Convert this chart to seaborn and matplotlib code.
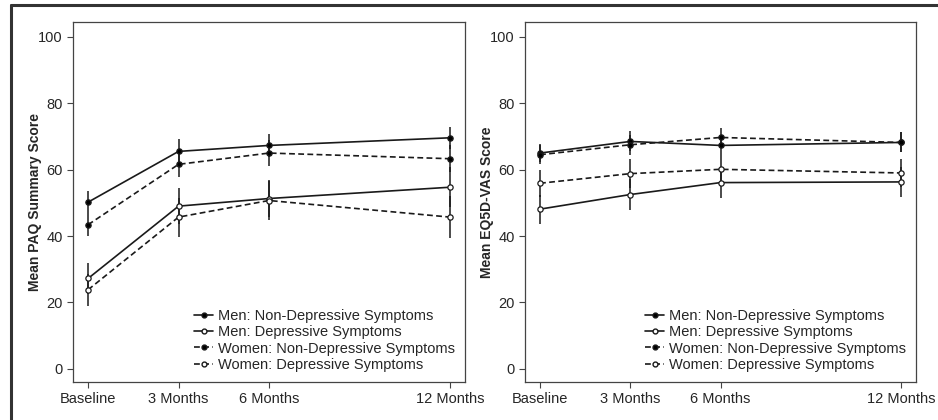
import matplotlib
matplotlib.use("Agg")
import matplotlib.pyplot as plt
import seaborn as sns
import pandas as pd
from matplotlib.lines import Line2D
from matplotlib import font_manager

# time points and tick labels
months = [0, 3, 6, 12]
tick_labels = ["Baseline", "3 Months", "6 Months", "12 Months"]
groups = ["Men: Non-Depressive Symptoms", "Men: Depressive Symptoms",
          "Women: Non-Depressive Symptoms", "Women: Depressive Symptoms"]

# PAQ panel: means and half-widths of the CI bars
paq_men_nd = [50.2, 65.5, 67.3, 69.6]
paq_men_dep = [27.2, 49.0, 51.3, 54.7]
paq_women_nd = [43.4, 61.6, 65.0, 63.3]
paq_women_dep = [23.8, 45.7, 50.7, 45.7]
paq_men_nd_ci = [3.3, 3.7, 3.5, 3.4]
paq_men_dep_ci = [4.6, 5.4, 5.6, 6.0]
paq_women_nd_ci = [3.5, 3.7, 4.0, 4.0]
paq_women_dep_ci = [4.8, 5.9, 6.0, 6.3]

# EQ5D-VAS panel
eq_men_nd = [65.0, 68.5, 67.3, 68.2]
eq_men_dep = [48.1, 52.5, 56.1, 56.3]
eq_women_nd = [64.5, 67.5, 69.7, 68.2]
eq_women_dep = [55.9, 58.8, 60.1, 59.0]
eq_men_nd_ci = [2.8, 3.0, 3.0, 3.0]
eq_men_dep_ci = [4.4, 4.6, 4.5, 4.4]
eq_women_nd_ci = [2.8, 3.0, 3.0, 3.0]
eq_women_dep_ci = [4.0, 4.4, 4.2, 4.3]

# font: narrow sans if available
names = {f.name for f in font_manager.fontManager.ttflist}
font = "Liberation Sans Narrow" if "Liberation Sans Narrow" in names else "Liberation Sans"

sns.set_style("ticks")
plt.rcParams["font.family"] = [font, "DejaVu Sans"]

styles = {
    groups[0]: dict(ls="-", fc="black"),
    groups[1]: dict(ls="-", fc="white"),
    groups[2]: dict(ls=(0, (3.5, 2)), fc="black"),
    groups[3]: dict(ls=(0, (3.5, 2)), fc="white"),
}


def make_frame(means, cis):
    rows = []
    for g, m, c in zip(groups, means, cis):
        for t, v, e in zip(months, m, c):
            rows.append({"group": g, "month": t, "score": v, "ci": e})
    return pd.DataFrame(rows)


paq = make_frame([paq_men_nd, paq_men_dep, paq_women_nd, paq_women_dep],
                 [paq_men_nd_ci, paq_men_dep_ci, paq_women_nd_ci, paq_women_dep_ci])
eq = make_frame([eq_men_nd, eq_men_dep, eq_women_nd, eq_women_dep],
                [eq_men_nd_ci, eq_men_dep_ci, eq_women_nd_ci, eq_women_dep_ci])

fig = plt.figure(figsize=(9.38, 4.2), dpi=100)
ax1 = fig.add_axes([73 / 938, 38 / 420, 392 / 938, 360 / 420])
ax2 = fig.add_axes([525 / 938, 38 / 420, 391 / 938, 360 / 420])


def draw_panel(ax, df, ylabel):
    for g in groups:
        d = df[df["group"] == g]
        ax.vlines(d["month"], d["score"] - d["ci"], d["score"] + d["ci"],
                  color="#1a1a1a", lw=1.1, zorder=2)
    for g in groups:
        d = df[df["group"] == g]
        st = styles[g]
        sns.lineplot(data=d, x="month", y="score", ax=ax, color="#1a1a1a",
                     lw=1.2, linestyle=st["ls"], marker="o", markersize=3.8,
                     markerfacecolor=st["fc"], markeredgecolor="#1a1a1a",
                     markeredgewidth=0.9, errorbar=None, zorder=3)
    ax.set_xlim(-0.5, 12.5)
    ax.set_ylim(-4, 104.5)
    ax.set_xticks(months)
    ax.set_xticklabels(tick_labels)
    ax.set_yticks([0, 20, 40, 60, 80, 100])
    ax.set_xlabel("")
    ax.set_ylabel(ylabel, fontsize=10, fontweight="bold")
    ax.yaxis.set_label_coords(-0.08, 0.5)
    ax.tick_params(labelsize=10.5, length=4, width=0.8, color="#444444")
    for s in ax.spines.values():
        s.set_visible(True)
        s.set_color("#444444")
        s.set_linewidth(0.9)
    handles = [Line2D([], [], color="#1a1a1a", lw=1.2, linestyle=styles[g]["ls"],
                      marker="o", markersize=3.5, markerfacecolor=styles[g]["fc"],
                      markeredgecolor="#1a1a1a") for g in groups]
    ax.legend(handles, groups, loc="lower right", bbox_to_anchor=(1.0, 0.0),
              frameon=False, fontsize=10.5, handlelength=1.3, handletextpad=0.3,
              labelspacing=0.15, borderaxespad=0.3)


draw_panel(ax1, paq, "Mean PAQ Summary Score")
draw_panel(ax2, eq, "Mean EQ5D-VAS Score")

# outer frame of the figure
fig.add_artist(Line2D([11 / 938, 11 / 938], [0, 1 - 5 / 420], color="#333333", lw=2.2))
fig.add_artist(Line2D([11 / 938, 1], [1 - 5 / 420, 1 - 5 / 420], color="#333333", lw=2.2))

fig.savefig("out.png", dpi=100)
